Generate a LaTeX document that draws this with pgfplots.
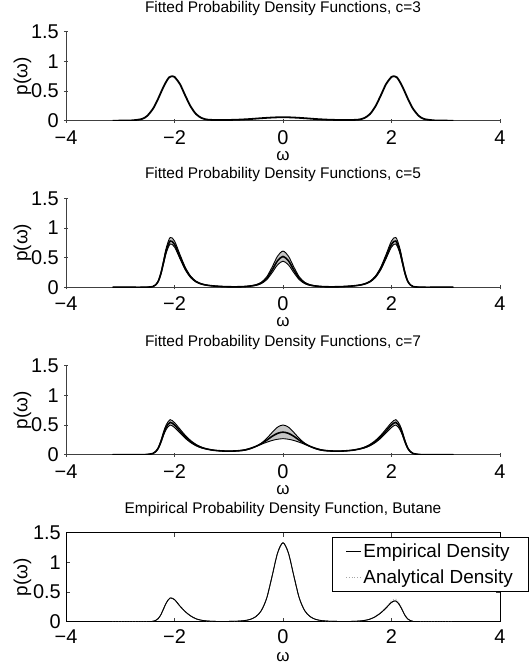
\documentclass[border=0pt]{standalone}
\usepackage{fontspec}
\setmainfont{Liberation Sans}
\usepackage{pgfplots}
\usepackage{pgfplotstable}
\pgfplotsset{compat=1.18}
\usepgfplotslibrary{fillbetween}

% c=3 fit
\pgfplotstableread{
x y
-3.14 0
-3.0 0.001
-2.8 0.004
-2.6 0.029
-2.5 0.084
-2.4 0.197
-2.35 0.278
-2.3 0.373
-2.25 0.476
-2.2 0.576
-2.15 0.662
-2.1 0.73
-2.04 0.75
-2.0 0.738
-1.9 0.617
-1.8 0.42
-1.7 0.235
-1.6 0.109
-1.5 0.045
-1.4 0.019
-1.3 0.013
-1.2 0.011
-1.1 0.011
-1.0 0.012
-0.9 0.015
-0.8 0.018
-0.7 0.023
-0.6 0.028
-0.5 0.035
-0.4 0.042
-0.3 0.048
-0.2 0.053
-0.1 0.057
0 0.058
0.1 0.057
0.2 0.053
0.3 0.048
0.4 0.042
0.5 0.035
0.6 0.028
0.7 0.023
0.8 0.018
0.9 0.015
1.0 0.012
1.1 0.011
1.2 0.011
1.3 0.013
1.4 0.019
1.5 0.045
1.6 0.109
1.7 0.235
1.8 0.42
1.9 0.617
2.0 0.738
2.04 0.75
2.1 0.73
2.15 0.662
2.2 0.576
2.25 0.476
2.3 0.373
2.35 0.278
2.4 0.197
2.5 0.084
2.6 0.029
2.8 0.004
3.0 0.001
3.14 0
}\tbthree

% c=5 fit: mean, upper, lower
\pgfplotstableread{
x mean up lo
-3.14 0 0 0
-3.0 0 0 0
-2.8 0 0 0
-2.6 0 0 0
-2.5 0.002 0.002 0.001
-2.4 0.012 0.013 0.011
-2.35 0.039 0.042 0.037
-2.3 0.101 0.109 0.095
-2.25 0.234 0.252 0.219
-2.2 0.429 0.462 0.402
-2.15 0.624 0.672 0.584
-2.08 0.78 0.84 0.73
-2.0 0.725 0.781 0.679
-1.9 0.515 0.554 0.482
-1.8 0.312 0.336 0.292
-1.7 0.172 0.185 0.161
-1.6 0.094 0.101 0.088
-1.5 0.055 0.059 0.051
-1.4 0.035 0.038 0.033
-1.3 0.024 0.025 0.022
-1.2 0.017 0.018 0.016
-1.1 0.012 0.013 0.011
-1.0 0.009 0.010 0.008
-0.9 0.008 0.009 0.007
-0.8 0.009 0.011 0.008
-0.7 0.013 0.015 0.011
-0.6 0.022 0.025 0.019
-0.5 0.037 0.044 0.032
-0.4 0.073 0.085 0.062
-0.3 0.151 0.177 0.128
-0.2 0.291 0.342 0.246
-0.1 0.447 0.525 0.378
0 0.52 0.61 0.44
0.1 0.447 0.525 0.378
0.2 0.291 0.342 0.246
0.3 0.151 0.177 0.128
0.4 0.073 0.085 0.062
0.5 0.037 0.044 0.032
0.6 0.022 0.025 0.019
0.7 0.013 0.015 0.011
0.8 0.009 0.011 0.008
0.9 0.008 0.009 0.007
1.0 0.009 0.010 0.008
1.1 0.012 0.013 0.011
1.2 0.017 0.018 0.016
1.3 0.024 0.025 0.022
1.4 0.035 0.038 0.033
1.5 0.055 0.059 0.051
1.6 0.094 0.101 0.088
1.7 0.172 0.185 0.161
1.8 0.312 0.336 0.292
1.9 0.515 0.554 0.482
2.0 0.725 0.781 0.679
2.08 0.78 0.84 0.73
2.15 0.624 0.672 0.584
2.2 0.429 0.462 0.402
2.25 0.234 0.252 0.219
2.3 0.101 0.109 0.095
2.35 0.039 0.042 0.037
2.4 0.012 0.013 0.011
2.5 0.002 0.002 0.001
2.6 0 0 0
2.8 0 0 0
3.0 0 0 0
3.14 0 0 0
}\tbfive

% c=7 fit: mean, upper, lower
\pgfplotstableread{
x mean up lo
-3.14 0 0 0
-3.0 0 0 0
-2.8 0 0 0
-2.6 0.001 0.001 0.001
-2.5 0.004 0.004 0.004
-2.4 0.02 0.022 0.018
-2.35 0.05 0.054 0.046
-2.3 0.11 0.119 0.101
-2.25 0.22 0.238 0.202
-2.2 0.36 0.39 0.33
-2.15 0.47 0.509 0.431
-2.08 0.545 0.59 0.50
-2.0 0.50 0.541 0.459
-1.9 0.40 0.433 0.367
-1.8 0.30 0.325 0.275
-1.7 0.22 0.238 0.202
-1.6 0.16 0.172 0.148
-1.5 0.12 0.127 0.113
-1.4 0.095 0.097 0.093
-1.3 0.078 0.079 0.077
-1.2 0.068 0.068 0.067
-1.1 0.062 0.062 0.062
-1.0 0.06 0.06 0.06
-0.9 0.062 0.06 0.064
-0.8 0.068 0.065 0.07
-0.7 0.08 0.075 0.085
-0.6 0.105 0.10 0.11
-0.5 0.14 0.14 0.14
-0.4 0.185 0.195 0.175
-0.3 0.245 0.275 0.21
-0.2 0.31 0.375 0.24
-0.1 0.36 0.465 0.26
0 0.38 0.50 0.27
0.1 0.36 0.465 0.26
0.2 0.31 0.375 0.24
0.3 0.245 0.275 0.21
0.4 0.185 0.195 0.175
0.5 0.14 0.14 0.14
0.6 0.105 0.10 0.11
0.7 0.08 0.075 0.085
0.8 0.068 0.065 0.07
0.9 0.062 0.06 0.064
1.0 0.06 0.06 0.06
1.1 0.062 0.062 0.062
1.2 0.068 0.068 0.067
1.3 0.078 0.079 0.077
1.4 0.095 0.097 0.093
1.5 0.12 0.127 0.113
1.6 0.16 0.172 0.148
1.7 0.22 0.238 0.202
1.8 0.30 0.325 0.275
1.9 0.40 0.433 0.367
2.0 0.50 0.541 0.459
2.08 0.545 0.59 0.50
2.15 0.47 0.509 0.431
2.2 0.36 0.39 0.33
2.25 0.22 0.238 0.202
2.3 0.11 0.119 0.101
2.35 0.05 0.054 0.046
2.4 0.02 0.022 0.018
2.5 0.004 0.004 0.004
2.6 0.001 0.001 0.001
2.8 0 0 0
3.0 0 0 0
3.14 0 0 0
}\tbseven

% butane: empirical and analytical
\pgfplotstableread{
x emp ana
-3.14 0 0
-3.0 0 0
-2.8 0 0
-2.6 0 0
-2.5 0.001 0.001
-2.4 0.006 0.006
-2.35 0.02 0.02
-2.3 0.052 0.052
-2.25 0.12 0.12
-2.2 0.22 0.22
-2.15 0.32 0.32
-2.08 0.40 0.40
-2.0 0.372 0.372
-1.9 0.264 0.264
-1.8 0.168 0.168
-1.7 0.096 0.096
-1.6 0.048 0.048
-1.5 0.024 0.024
-1.4 0.012 0.012
-1.3 0.007 0.007
-1.2 0.004 0.004
-1.1 0.003 0.003
-1.0 0.005 0.005
-0.9 0.006 0.006
-0.8 0.011 0.011
-0.7 0.02 0.02
-0.6 0.04 0.04
-0.5 0.086 0.086
-0.4 0.186 0.186
-0.3 0.399 0.399
-0.2 0.771 0.771
-0.1 1.157 1.157
0 1.33 1.33
0.1 1.157 1.157
0.2 0.771 0.771
0.3 0.399 0.399
0.4 0.186 0.186
0.5 0.086 0.086
0.6 0.04 0.04
0.7 0.02 0.02
0.8 0.011 0.011
0.9 0.006 0.006
1.0 0.005 0.005
1.1 0.003 0.003
1.2 0.004 0.004
1.3 0.006 0.007
1.4 0.011 0.012
1.5 0.021 0.023
1.6 0.042 0.046
1.7 0.084 0.091
1.8 0.147 0.16
1.9 0.231 0.251
2.0 0.326 0.353
2.08 0.35 0.38
2.15 0.28 0.304
2.2 0.193 0.209
2.25 0.105 0.114
2.3 0.046 0.049
2.35 0.018 0.019
2.4 0.005 0.006
2.5 0.001 0.001
2.6 0 0
2.8 0 0
3.0 0 0
3.14 0 0
}\tbbutane

\pgfplotsset{
  panel/.style={
    scale only axis, width=434bp, height=89bp,
    anchor=south west,
    xmin=-4, xmax=4, ymin=0, ymax=1.5,
    xtick={-4,-2,0,2,4}, xticklabels={−4,−2,0,2,4},
    ytick={0,0.5,1,1.5}, yticklabels={0,0.5,1,1.5},
    tick align=inside, major tick length=4bp,
    tick style={black!75, line width=0.5bp},
    axis line style={black!75, line width=0.6bp},
    ticklabel style={font=\fontsize{20}{20}\selectfont},
    yticklabel style={inner sep=0pt, xshift=-5bp},
    xticklabel style={inner sep=0pt, yshift=-7.5bp},
    label style={font=\fontsize{19}{19}\selectfont, inner sep=0pt},
    xlabel={ω}, ylabel={p(ω)},
    xlabel style={at={(axis description cs:0.5,0)}, anchor=center, yshift=-35bp,
      font=\fontsize{17}{17}\selectfont},
    ylabel style={at={(axis description cs:-0.1,0.5)}, anchor=center},
    title style={font=\fontsize{15.5}{15.5}\selectfont, inner sep=0pt,
      at={(axis description cs:0.5,1)}, anchor=base, yshift=13.5bp},
  },
  boxoff/.style={axis lines=left, axis line style={-}},
}

\begin{document}
\begin{tikzpicture}

% c=3
\begin{axis}[panel, boxoff, at={(66bp,543.3bp)},
  title={Fitted Probability Density Functions, c=3}]
\addplot[black, line width=1.8bp, smooth] table[x=x, y=y] {\tbthree};
\end{axis}

% c=5
\begin{axis}[panel, boxoff, at={(66bp,376.7bp)},
  title={Fitted Probability Density Functions, c=5}]
\addplot[draw=none, smooth, name path=up5] table[x=x, y=up] {\tbfive};
\addplot[draw=none, smooth, name path=lo5] table[x=x, y=lo] {\tbfive};
\addplot[fill=gray!45, draw=none] fill between[of=up5 and lo5];
\addplot[black, line width=0.9bp, smooth] table[x=x, y=up] {\tbfive};
\addplot[black, line width=0.9bp, smooth] table[x=x, y=lo] {\tbfive};
\addplot[black, line width=1.6bp, smooth] table[x=x, y=mean] {\tbfive};
\end{axis}

% c=7
\begin{axis}[panel, boxoff, at={(66bp,209.3bp)},
  title={Fitted Probability Density Functions, c=7}]
\addplot[draw=none, smooth, name path=up7] table[x=x, y=up] {\tbseven};
\addplot[draw=none, smooth, name path=lo7] table[x=x, y=lo] {\tbseven};
\addplot[fill=gray!45, draw=none] fill between[of=up7 and lo7];
\addplot[black, line width=0.9bp, smooth] table[x=x, y=up] {\tbseven};
\addplot[black, line width=0.9bp, smooth] table[x=x, y=lo] {\tbseven};
\addplot[black, line width=1.6bp, smooth] table[x=x, y=mean] {\tbseven};
\end{axis}

% butane
\begin{axis}[panel, at={(66bp,42.3bp)},
  axis line style={black, line width=0.6bp},
  title={Empirical Probability Density Function, Butane},
  legend style={at={(axis description cs:1.0645,0.95)}, anchor=north east,
    font=\fontsize{19}{19}\selectfont, draw=black, fill=white,
    inner xsep=13bp, inner ysep=4bp, row sep=7bp, cells={anchor=west}},
  legend image code/.code={\draw[#1] (0bp,0bp) -- (15bp,0bp);}]
\addplot[black, line width=0.8bp, smooth] table[x=x, y=emp] {\tbbutane};
\addlegendentry{Empirical Density}
\addplot[gray!70, line width=0.8bp, dotted, smooth] table[x=x, y=ana] {\tbbutane};
\addlegendentry{Analytical Density}
\addplot[black, line width=0.8bp, smooth, forget plot] table[x=x, y=emp] {\tbbutane};
\end{axis}

\pgfresetboundingbox
\path[use as bounding box] (0,0) rectangle (532bp,664bp);
\end{tikzpicture}
\end{document}
